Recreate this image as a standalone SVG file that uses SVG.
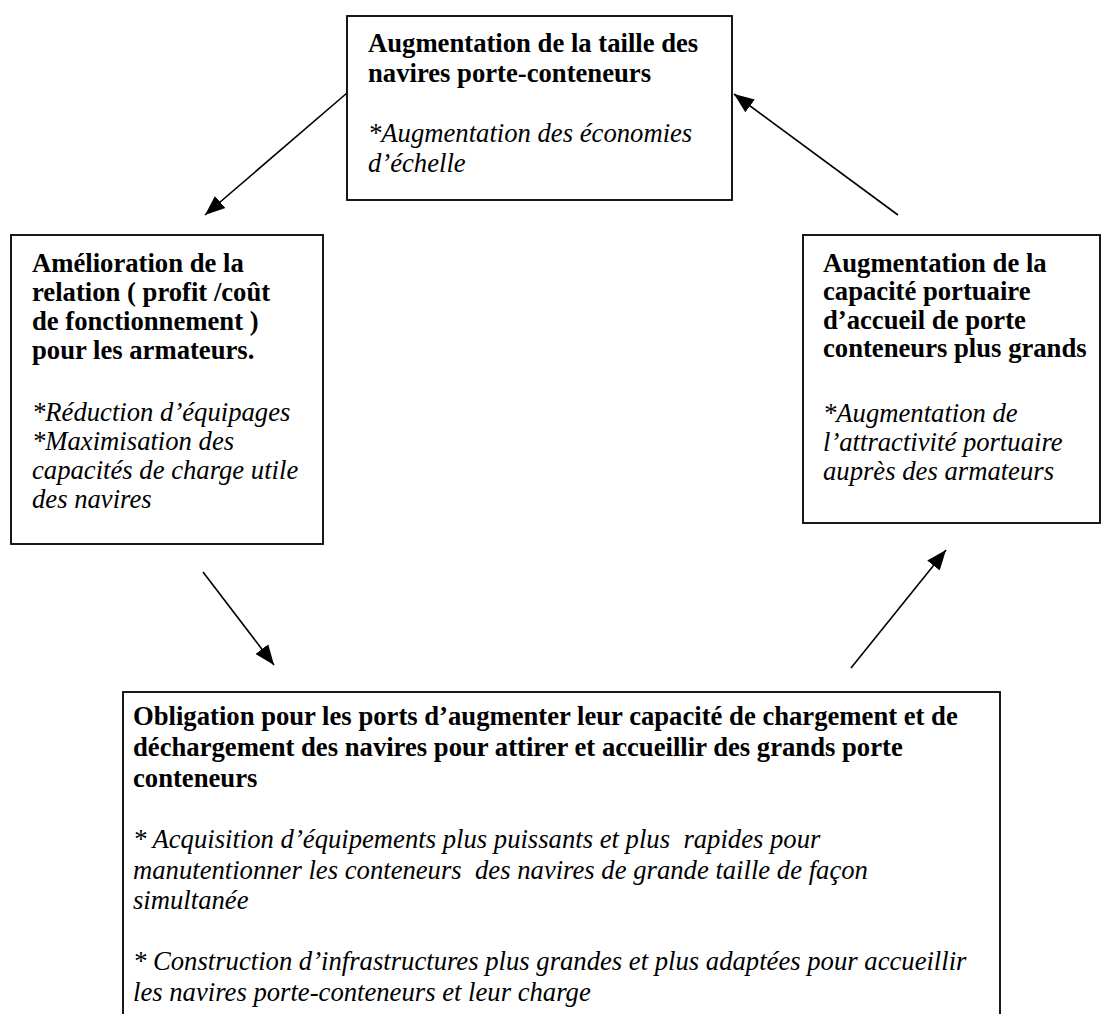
<svg xmlns="http://www.w3.org/2000/svg" width="1104" height="1014" viewBox="0 0 1104 1014">
<style>
.box{fill:#fff;stroke:#000;stroke-width:1.8}
.b{font-family:"Liberation Serif","Times New Roman",serif;font-size:26.67px;font-weight:bold;fill:#000}
.i{font-family:"Liberation Serif","Times New Roman",serif;font-size:26.67px;font-style:italic;fill:#000}
.c{stroke:#000;stroke-width:1.6;fill:none}
</style>
<defs>
<marker id="ah" markerUnits="userSpaceOnUse" markerWidth="22" markerHeight="18" viewBox="0 0 22 18" refX="20" refY="9" orient="auto">
<path d="M0,1 L20,9 L0,17 Z" fill="#000"/>
</marker>
</defs>
<rect width="1104" height="1014" fill="#fff"/>
<g id="connectors">
<line class="c" x1="347" y1="93" x2="205" y2="215" marker-end="url(#ah)"/>
<line class="c" x1="898" y1="215" x2="734" y2="94" marker-end="url(#ah)"/>
<line class="c" x1="203" y1="572" x2="274" y2="665" marker-end="url(#ah)"/>
<line class="c" x1="851" y1="668" x2="946" y2="550" marker-end="url(#ah)"/>
</g>
<g id="node-top">
<rect class="box" x="347" y="16" width="385" height="184"/>
<text class="b" x="368" y="52">Augmentation de la taille des</text>
<text class="b" x="368" y="82">navires porte-conteneurs</text>
<text class="i" x="368" y="142">*Augmentation des économies</text>
<text class="i" x="368" y="172">d’échelle</text>
</g>
<g id="node-left">
<rect class="box" x="11" y="235" width="312" height="309"/>
<text class="b" x="32" y="272">Amélioration de la</text>
<text class="b" x="32" y="301">relation ( profit /coût</text>
<text class="b" x="32" y="330">de fonctionnement )</text>
<text class="b" x="32" y="359">pour les armateurs.</text>
<text class="i" x="32" y="421">*Réduction d’équipages</text>
<text class="i" x="32" y="450">*Maximisation des</text>
<text class="i" x="32" y="479">capacités de charge utile</text>
<text class="i" x="32" y="508">des navires</text>
</g>
<g id="node-right">
<rect class="box" x="803" y="235" width="297" height="288"/>
<text class="b" x="823" y="272">Augmentation de la</text>
<text class="b" x="823" y="300">capacité portuaire</text>
<text class="b" x="823" y="329">d’accueil de porte</text>
<text class="b" x="823" y="357">conteneurs plus grands</text>
<text class="i" x="823" y="422">*Augmentation de</text>
<text class="i" x="823" y="451">l’attractivité portuaire</text>
<text class="i" x="823" y="480">auprès des armateurs</text>
</g>
<g id="node-bottom">
<rect class="box" x="123" y="692" width="877" height="340"/>
<text class="b" x="133" y="725">Obligation pour les ports d’augmenter leur capacité de chargement et de</text>
<text class="b" x="133" y="756">déchargement des navires pour attirer et accueillir des grands porte</text>
<text class="b" x="133" y="787">conteneurs</text>
<text class="i" x="133" y="848" xml:space="preserve">* Acquisition d’équipements plus puissants et plus  rapides pour</text>
<text class="i" x="133" y="879" xml:space="preserve">manutentionner les conteneurs  des navires de grande taille de façon</text>
<text class="i" x="133" y="909">simultanée</text>
<text class="i" x="133" y="970">* Construction d’infrastructures plus grandes et plus adaptées pour accueillir</text>
<text class="i" x="133" y="1001">les navires porte-conteneurs et leur charge</text>
</g>
</svg>
